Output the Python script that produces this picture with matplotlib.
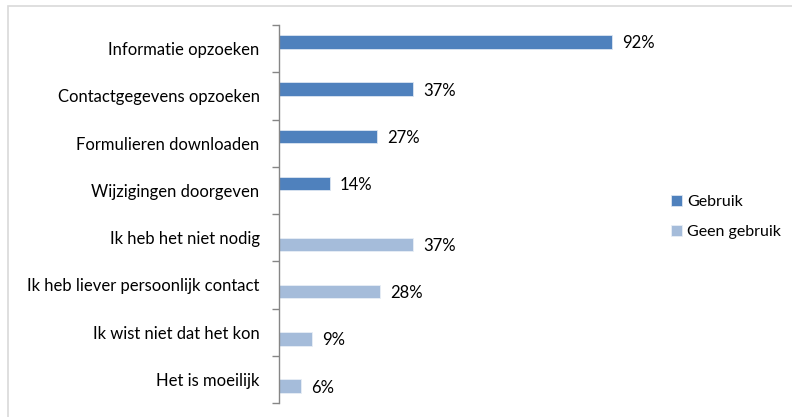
import matplotlib
matplotlib.use("Agg")
import matplotlib.pyplot as plt
from matplotlib.patches import Rectangle
import numpy as np

categories = [
    "Informatie opzoeken",
    "Contactgegevens opzoeken",
    "Formulieren downloaden",
    "Wijzigingen doorgeven",
    "Ik heb het niet nodig",
    "Ik heb liever persoonlijk contact",
    "Ik wist niet dat het kon",
    "Het is moeilijk",
]
gebruik = [92, 37, 27, 14, 0, 0, 0, 0]
geen_gebruik = [0, 0, 0, 0, 37, 28, 9, 6]
series_names = ["Gebruik", "Geen gebruik"]
colors = ["#4F81BD", "#A5BCDA"]

plt.rcParams["font.family"] = ["Lato", "DejaVu Sans"]

fig = plt.figure(figsize=(7.92, 4.17), dpi=100)

# outer chart-area frame (top and left edges visible)
fig.patches.append(Rectangle((8 / 792, -0.1), 1.2, (417 - 6) / 417 + 0.1,
                             transform=fig.transFigure, fill=False,
                             edgecolor="#D9D9D9", linewidth=1.2, zorder=0))

ax = fig.add_axes([279 / 792, 1 - 403 / 417, (641 - 279) / 792, (403 - 25) / 417])

y = np.arange(len(categories))
h = 0.285
off = 0.142
ax.barh(y - off, gebruik, height=h, color=colors[0], edgecolor="#DCE6F2",
        linewidth=0.6, label=series_names[0])
ax.barh(y + off, geen_gebruik, height=h, color=colors[1], edgecolor="#E8EEF6",
        linewidth=0.6, label=series_names[1])

for yi, v in zip(y - off, gebruik):
    if v:
        ax.text(v + 2.8, yi, f"{v}%", va="center_baseline", ha="left",
                fontsize=12, color="#000000")
for yi, v in zip(y + off, geen_gebruik):
    if v:
        ax.text(v + 2.8, yi, f"{v}%", va="center_baseline", ha="left",
                fontsize=12, color="#000000")

ax.set_xlim(0, 100)
ax.set_ylim(len(categories) - 0.5, -0.5)

ax.set_yticks(y)
ax.set_yticklabels(categories, fontsize=12, va="center_baseline")
ax.set_yticks(np.arange(-0.5, len(categories) + 0.5, 1), minor=True)
ax.tick_params(axis="y", which="major", length=0, pad=14)
ax.tick_params(axis="y", which="minor", length=5, color="#868686", width=1)
ax.set_xticks([])

for s in ["top", "right", "bottom"]:
    ax.spines[s].set_visible(False)
ax.spines["left"].set_color("#868686")
ax.spines["left"].set_linewidth(1)

leg = fig.legend(loc="upper left", bbox_to_anchor=(671 / 792, 1 - 195 / 417),
                 frameon=False, fontsize=11.5, handlelength=0.7, handleheight=0.7,
                 handletextpad=0.3, labelspacing=1.0, borderpad=0,
                 borderaxespad=0)

fig.savefig("out.png", dpi=100)
